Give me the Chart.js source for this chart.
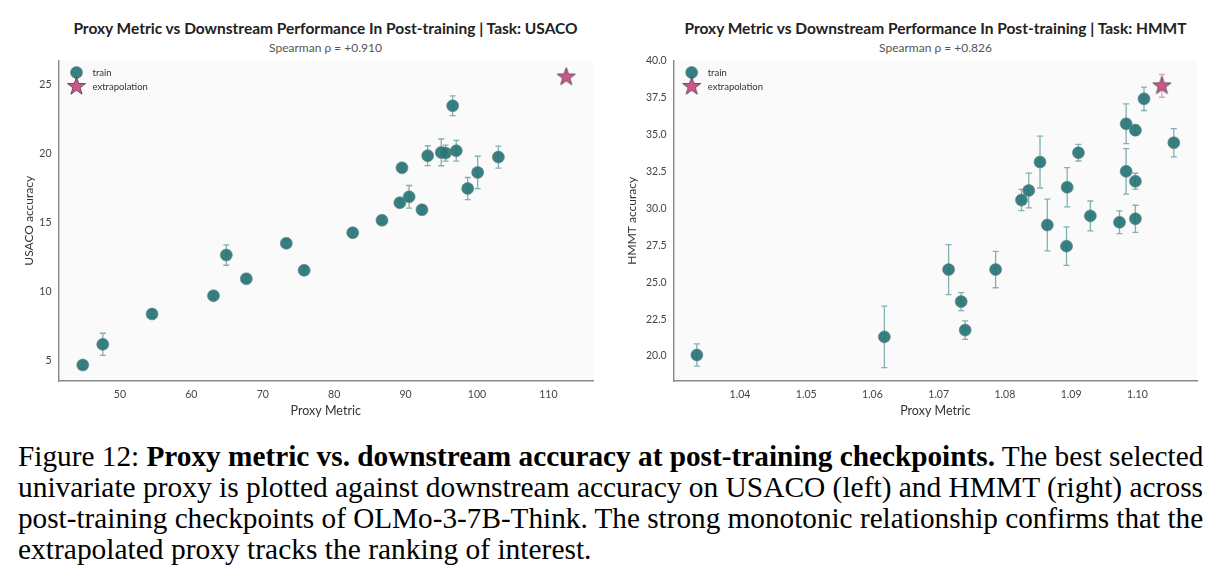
<!DOCTYPE html>
<html>
<head>
<meta charset="utf-8">
<script src="https://cdn.jsdelivr.net/npm/chart.js@4.4.1/dist/chart.umd.min.js"></script>
<style>
  body { margin: 0; background: #fff; width: 1219px; height: 588px; overflow: hidden; position: relative; font-family: Lato, sans-serif; }
  canvas { position: absolute; top: 0; }
  #usaco { left: 0; }
  #hmmt { left: 605px; }
  .ttl { position: absolute; top: 19px; text-align: center; font-weight: bold; font-size: 15.5px; color: #222; white-space: nowrap; }
  .sub { position: absolute; top: 40px; text-align: center; font-size: 12px; color: #555; white-space: nowrap; }
  #caption { position: absolute; left: 18px; top: 441px; font-family: "Liberation Serif", "Times New Roman", serif; font-size: 29px; line-height: 31px; color: #000; }
  #caption div { white-space: nowrap; transform-origin: 0 0; width: max-content; }
</style>
</head>
<body>
<div class="ttl" style="left:58px;width:535px">Proxy Metric vs Downstream Performance In Post-training | Task: USACO</div>
<div class="sub" style="left:58px;width:535px">Spearman ρ = +0.910</div>
<div class="ttl" style="left:674px;width:523px">Proxy Metric vs Downstream Performance In Post-training | Task: HMMT</div>
<div class="sub" style="left:674px;width:523px">Spearman ρ = +0.826</div>
<canvas id="usaco" width="605" height="430"></canvas>
<canvas id="hmmt" width="614" height="430"></canvas>
<div id="caption">
  <div data-w="1185">Figure 12: <b>Proxy metric vs. downstream accuracy at post-training checkpoints.</b> The best selected</div>
  <div data-w="1185">univariate proxy is plotted against downstream accuracy on USACO (left) and HMMT (right) across</div>
  <div data-w="1185">post-training checkpoints of OLMo-3-7B-Think. The strong monotonic relationship confirms that the</div>
  <div data-w="574">extrapolated proxy tracks the ranking of interest.</div>
</div>
<script>
// USACO panel
var usacoX = [44.8, 47.6, 54.5, 63.1, 64.9, 67.7, 73.3, 75.8, 82.6, 86.7, 89.2, 89.5, 90.5, 92.3, 93.1, 95.0, 95.6, 96.6, 97.1, 98.7, 100.1, 103.0];
var usacoY = [4.71, 6.21, 8.41, 9.73, 12.68, 10.96, 13.53, 11.57, 14.30, 15.2, 16.47, 19.0, 16.9, 15.96, 19.88, 20.12, 20.07, 23.5, 20.24, 17.5, 18.67, 19.78];
var usacoErr = [0.25, 0.8, 0.25, 0.25, 0.74, 0.25, 0.25, 0.25, 0.3, 0.25, 0.3, 0.3, 0.82, 0.3, 0.72, 0.97, 0.58, 0.71, 0.75, 0.8, 1.17, 0.8];
var usacoExtX = [112.5];
var usacoExtY = [25.58];
var usacoExtErr = [0];
var usacoXTicks = [50, 60, 70, 80, 90, 100, 110];
var usacoYTicks = [5, 10, 15, 20, 25];

// HMMT panel
var hmmtX = [1.0335, 1.0618, 1.0715, 1.0734, 1.0740, 1.0786, 1.0825, 1.0836, 1.0853, 1.0864, 1.0893, 1.0894, 1.0911, 1.0929, 1.0973, 1.0983, 1.0983, 1.0997, 1.0997, 1.0997, 1.1010, 1.1055];
var hmmtY = [20.07, 21.30, 25.86, 23.69, 21.76, 25.86, 30.57, 31.22, 33.15, 28.88, 27.45, 31.44, 33.78, 29.5, 29.07, 35.74, 32.52, 35.31, 31.85, 29.3, 37.43, 34.46];
var hmmtErr = [0.75, 2.08, 1.69, 0.61, 0.63, 1.23, 0.72, 1.18, 1.76, 1.75, 1.3, 1.33, 0.56, 1.01, 0.77, 1.35, 1.54, 0.35, 0.54, 0.92, 0.79, 0.96];
var hmmtExtX = [1.1037];
var hmmtExtY = [38.31];
var hmmtExtErr = [0.77];
var hmmtXTicks = [1.04, 1.05, 1.06, 1.07, 1.08, 1.09, 1.10];
var hmmtYTicks = [20, 22.5, 25, 27.5, 30, 32.5, 35, 37.5, 40];

Chart.defaults.font.family = 'Lato, sans-serif';
Chart.defaults.color = '#444';

// filled 5-point star used as point style
function makeStar(r) {
  var c = document.createElement('canvas');
  var s = Math.ceil(r * 2 + 2);
  c.width = s; c.height = s;
  var g = c.getContext('2d');
  g.beginPath();
  for (var k = 0; k < 10; k++) {
    var rr = k % 2 == 0 ? r : r * 0.4;
    var a = -Math.PI / 2 + k * Math.PI / 5;
    var px = s / 2 + rr * Math.cos(a), py = s / 2 + rr * Math.sin(a);
    if (k == 0) g.moveTo(px, py); else g.lineTo(px, py);
  }
  g.closePath();
  g.fillStyle = '#c9588b';
  g.fill();
  g.lineWidth = 0.7;
  g.strokeStyle = '#3a2a30';
  g.stroke();
  return c;
}
var starImg = makeStar(9.5);

function pts(xs, ys) {
  return xs.map(function (v, i) { return { x: v, y: ys[i] }; });
}

const errorBars = {
  id: 'errorBars',
  beforeDatasetsDraw(chart) {
    const ctx = chart.ctx, x = chart.scales.x, y = chart.scales.y;
    chart.data.datasets.forEach(function (ds) {
      if (!ds.errors) return;
      ctx.save();
      ctx.strokeStyle = ds.errorColor;
      ctx.lineWidth = 1.3;
      ds.data.forEach(function (p, j) {
        var e = ds.errors[j];
        if (!e) return;
        var px = x.getPixelForValue(p.x);
        var top = y.getPixelForValue(p.y + e), bot = y.getPixelForValue(p.y - e);
        ctx.beginPath();
        ctx.moveTo(px, top); ctx.lineTo(px, bot);
        ctx.moveTo(px - 3, top); ctx.lineTo(px + 3, top);
        ctx.moveTo(px - 3, bot); ctx.lineTo(px + 3, bot);
        ctx.stroke();
      });
      ctx.restore();
    });
  }
};

// legend drawn inside the plot, top left
const insideLegend = {
  id: 'insideLegend',
  afterDatasetsDraw(chart, args, opts) {
    const ctx = chart.ctx, area = chart.chartArea;
    chart.data.datasets.forEach(function (ds, i) {
      var cx = area.left + opts.x, cy = area.top + opts.y + i * 14;
      ctx.save();
      ctx.fillStyle = ds.backgroundColor;
      ctx.strokeStyle = ds.borderColor;
      ctx.lineWidth = ds.borderWidth;
      Chart.helpers.drawPoint(ctx, { pointStyle: ds.pointStyle, radius: ds.pointRadius, borderWidth: ds.borderWidth, rotation: 0 }, cx, cy);
      ctx.fillStyle = '#333';
      ctx.font = '9.5px Lato, sans-serif';
      ctx.textBaseline = 'middle';
      ctx.fillText(ds.label, cx + 16, cy);
      ctx.restore();
    });
  }
};

function makeChart(id, trainPts, trainErr, extPts, extErr, xr, yr, xTicks, yTicks, yTitle, yW, padR, yTitlePad, xFmt, yFmt) {
  return new Chart(document.getElementById(id), {
    type: 'scatter',
    data: {
      datasets: [{
        label: 'train',
        data: trainPts,
        errors: trainErr,
        errorColor: 'rgba(52,128,130,0.6)',
        pointStyle: 'circle',
        pointRadius: 6,
        backgroundColor: 'rgba(38,117,119,0.92)',
        borderColor: 'rgba(110,130,130,0.8)',
        borderWidth: 0.8
      }, {
        label: 'extrapolation',
        data: extPts,
        errors: extErr,
        errorColor: 'rgba(222,130,168,0.75)',
        pointStyle: starImg,
        pointRadius: 10,
        backgroundColor: '#c9588b',
        borderColor: '#3a2a30',
        borderWidth: 0.7
      }]
    },
    options: {
      responsive: false,
      animation: false,
      events: [],
      layout: { padding: { top: 60.5, right: padR, left: 0, bottom: 0 } },
      plugins: {
        legend: { display: false },
        tooltip: { enabled: false },
        insideLegend: { x: 18, y: 12 }
      },
      scales: {
        x: {
          min: xr[0], max: xr[1],
          grid: { display: false, drawTicks: false },
          border: { display: true, color: '#8a8a8a', width: 1.4 },
          afterBuildTicks: function (s) { s.ticks = xTicks.map(function (v) { return { value: v }; }); },
          afterFit: function (s) { s.height = 49; },
          ticks: { padding: 7, color: '#444', font: { size: 10.5 }, callback: xFmt },
          title: { display: true, text: 'Proxy Metric', color: '#333', font: { size: 12.5 }, padding: { bottom: 12, top: 0 } }
        },
        y: {
          min: yr[0], max: yr[1],
          grid: { display: false, drawTicks: false },
          border: { display: true, color: '#8a8a8a', width: 1.4 },
          afterBuildTicks: function (s) { s.ticks = yTicks.map(function (v) { return { value: v }; }); },
          afterFit: function (s) { s.width = yW; },
          ticks: { padding: 7, color: '#444', font: { size: 10.5 }, callback: yFmt },
          title: { display: true, text: yTitle, color: '#333', font: { size: 12 }, padding: { top: yTitlePad, bottom: 0 } }
        }
      }
    },
    plugins: [{
      id: 'plotBg',
      beforeDraw: function (chart) {
        var a = chart.chartArea, c = chart.ctx;
        c.save();
        c.fillStyle = '#fafafa';
        c.fillRect(a.left, a.top, a.right - a.left, a.bottom - a.top);
        c.restore();
      }
    }, errorBars, insideLegend]
  });
}

makeChart('usaco', pts(usacoX, usacoY), usacoErr, pts(usacoExtX, usacoExtY), usacoExtErr,
  [41.4, 116.25], [3.55, 26.78], usacoXTicks, usacoYTicks, 'USACO accuracy', 58.5, 12, 21.8,
  function (v) { return String(v); }, function (v) { return String(v); });

makeChart('hmmt', pts(hmmtX, hmmtY), hmmtErr, pts(hmmtExtX, hmmtExtY), hmmtExtErr,
  [1.0300, 1.1090], [18.31, 40.03], hmmtXTicks, hmmtYTicks, 'HMMT accuracy', 68.7, 22, 19.8,
  function (v) { return v.toFixed(2); }, function (v) { return v.toFixed(1); });

// squeeze each caption line to its width in the printed figure (offsetWidth ignores transforms)
function fitCaption() {
  document.querySelectorAll('#caption div').forEach(function (el) {
    var k = Number(el.dataset.w) / el.offsetWidth;
    el.style.transform = 'scaleX(' + k + ')';
  });
}
document.fonts.ready.then(fitCaption);
fitCaption();
</script>
</body>
</html>
